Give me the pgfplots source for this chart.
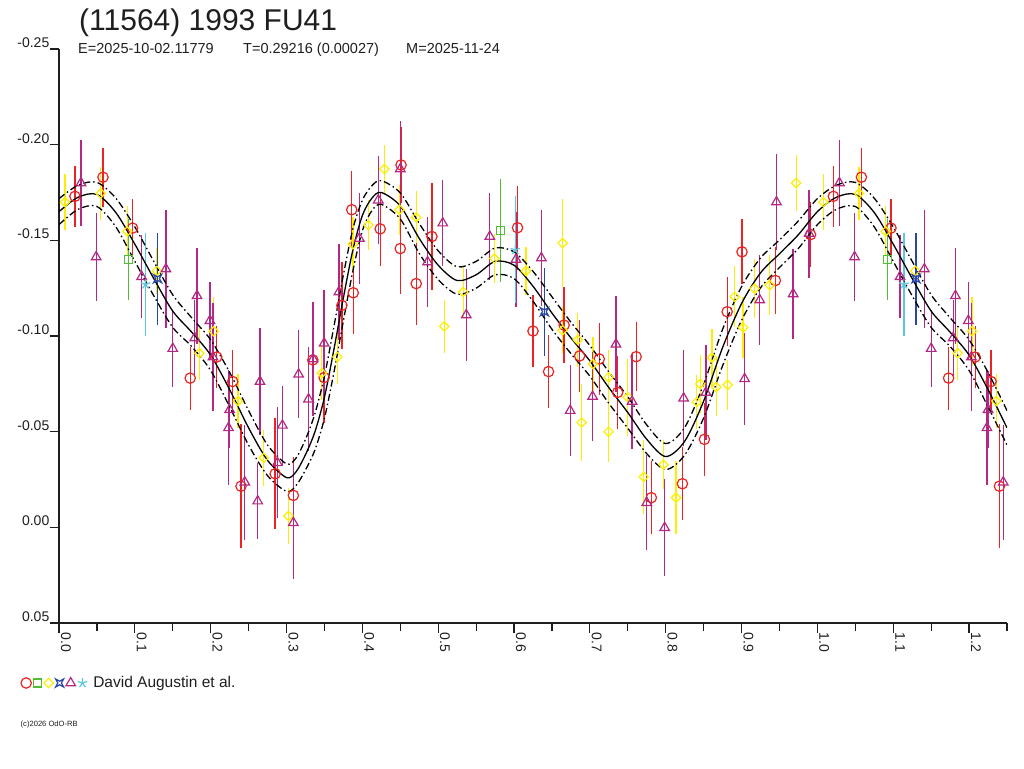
\documentclass[border=0pt]{standalone}
\usepackage{pgfplots}
\pgfplotsset{compat=1.18}
\usepackage{pgfplotstable}
\usepackage{fontspec}
\setmainfont{Liberation Sans}
\definecolor{cred}{RGB}{235,35,35}
\definecolor{cgreen}{RGB}{80,190,50}
\definecolor{cyellow}{RGB}{252,238,0}
\definecolor{cblue}{RGB}{40,70,170}
\definecolor{cpurple}{RGB}{178,40,130}
\definecolor{ccyan}{RGB}{90,200,225}
\definecolor{txt}{RGB}{30,30,30}
\pgfdeclareplotmark{fourstar}{%
  \pgfpathmoveto{\pgfqpoint{\pgfplotmarksize}{\pgfplotmarksize}}%
  \pgfpathlineto{\pgfqpoint{0pt}{0.45\pgfplotmarksize}}%
  \pgfpathlineto{\pgfqpoint{-\pgfplotmarksize}{\pgfplotmarksize}}%
  \pgfpathlineto{\pgfqpoint{-0.45\pgfplotmarksize}{0pt}}%
  \pgfpathlineto{\pgfqpoint{-\pgfplotmarksize}{-\pgfplotmarksize}}%
  \pgfpathlineto{\pgfqpoint{0pt}{-0.45\pgfplotmarksize}}%
  \pgfpathlineto{\pgfqpoint{\pgfplotmarksize}{-\pgfplotmarksize}}%
  \pgfpathlineto{\pgfqpoint{0.45\pgfplotmarksize}{0pt}}%
  \pgfpathclose\pgfusepathqstroke}

\pgfplotstableread{
x y e
0.021 -0.173 0.016
0.058 -0.183 0.0155
0.097 -0.1564 0.015
0.173 -0.078 0.0165
0.208 -0.089 0.016
0.229 -0.0762 0.0165
0.240 -0.0215 0.0325
0.285 -0.028 0.029
0.309 -0.0167 0.020
0.3347 -0.0875 0.018
0.3496 -0.0783 0.0237
0.373 -0.116 0.0226
0.388 -0.1226 0.0217
0.386 -0.166 0.020
0.4235 -0.156 0.0195
0.451 -0.1894 0.020
0.450 -0.1457 0.024
0.471 -0.1274 0.0217
0.4917 -0.152 0.028
0.6046 -0.1566 0.022
0.625 -0.1026 0.019
0.6455 -0.0814 0.019
0.666 -0.1057 0.020
0.6865 -0.0896 0.019
0.7124 -0.088 0.0187
0.7366 -0.0705 0.019
0.761 -0.0892 0.018
0.781 -0.0155 0.019
0.822 -0.0228 0.019
0.851 -0.046 0.019
0.881 -0.1127 0.018
0.9006 -0.144 0.017
0.9446 -0.129 0.0174
0.991 -0.153 0.0171
1.021 -0.173 0.016
1.058 -0.183 0.0155
1.097 -0.1564 0.015
1.173 -0.078 0.0165
1.208 -0.089 0.016
1.229 -0.0762 0.0165
1.240 -0.0215 0.0325
}\redtab

\pgfplotstableread{
x y e
0.092 -0.140 0.021
0.582 -0.155 0.027
1.092 -0.140 0.021
}\greentab

\pgfplotstableread{
x y e
0.008 -0.170 0.0145
0.055 -0.1745 0.014
0.090 -0.1547 0.013
0.129 -0.134 0.012
0.185 -0.091 0.014
0.204 -0.1025 0.018
0.236 -0.066 0.014
0.270 -0.0363 0.0145
0.3025 -0.0059 0.0145
0.3465 -0.0806 0.014
0.367 -0.089 0.014
0.3875 -0.148 0.014
0.408 -0.158 0.013
0.429 -0.1873 0.0126
0.449 -0.166 0.013
0.471 -0.162 0.0136
0.508 -0.105 0.0137
0.533 -0.123 0.013
0.574 -0.1405 0.013
0.6157 -0.134 0.0126
0.664 -0.1486 0.023
0.664 -0.103 0.012
0.684 -0.098 0.014
0.689 -0.0548 0.020
0.704 -0.0854 0.014
0.7247 -0.0785 0.014
0.7247 -0.050 0.0156
0.750 -0.068 0.020
0.771 -0.0264 0.0195
0.797 -0.0328 0.013
0.8136 -0.0155 0.019
0.841 -0.0655 0.014
0.8456 -0.075 0.015
0.861 -0.0887 0.015
0.8667 -0.0733 0.015
0.8817 -0.0745 0.013
0.891 -0.1205 0.016
0.902 -0.1045 0.016
0.917 -0.1248 0.0155
0.937 -0.1266 0.0156
0.972 -0.180 0.0146
1.008 -0.170 0.0145
1.055 -0.1745 0.014
1.090 -0.1547 0.013
1.129 -0.134 0.012
1.185 -0.091 0.014
1.204 -0.1025 0.018
1.236 -0.066 0.014
}\yellowtab

\pgfplotstableread{
x y e
0.130 -0.130 0.024
0.640 -0.1127 0.023
1.130 -0.130 0.024
}\bluetab

\pgfplotstableread{
x y e
0.029 -0.180 0.0226
0.049 -0.1413 0.023
0.109 -0.131 0.0217
0.141 -0.135 0.031
0.150 -0.0934 0.020
0.179 -0.099 0.020
0.182 -0.121 0.025
0.199 -0.108 0.020
0.203 -0.089 0.028
0.225 -0.0615 0.020
0.2235 -0.052 0.030
0.245 -0.0236 0.030
0.262 -0.0137 0.020
0.265 -0.0762 0.028
0.288 -0.0337 0.029
0.2946 -0.0533 0.0205
0.309 -0.0024 0.0295
0.316 -0.080 0.023
0.329 -0.067 0.027
0.335 -0.088 0.030
0.3496 -0.0962 0.028
0.369 -0.123 0.025
0.396 -0.151 0.024
0.421 -0.171 0.023
0.450 -0.1873 0.025
0.486 -0.1387 0.0236
0.506 -0.159 0.0226
0.537 -0.111 0.024
0.568 -0.152 0.0226
0.6025 -0.140 0.025
0.636 -0.1408 0.025
0.674 -0.061 0.0236
0.7036 -0.0684 0.0235
0.7344 -0.0957 0.025
0.7556 -0.0658 0.025
0.775 -0.0129 0.0248
0.7986 0.0002 0.0254
0.8236 -0.0675 0.025
0.853 -0.0705 0.025
0.904 -0.0776 0.024
0.924 -0.1188 0.0236
0.946 -0.170 0.025
0.968 -0.122 0.0236
0.989 -0.1535 0.023
1.029 -0.180 0.0226
1.049 -0.1413 0.023
1.109 -0.131 0.0217
1.141 -0.135 0.031
1.150 -0.0934 0.020
1.179 -0.099 0.020
1.182 -0.121 0.025
1.199 -0.108 0.020
1.203 -0.089 0.028
1.225 -0.0615 0.020
1.2235 -0.052 0.030
1.245 -0.0236 0.030
}\purpletab

\pgfplotstableread{
x y e
0.114 -0.127 0.027
0.6016 -0.145 0.028
1.114 -0.127 0.027
}\cyantab

\pgfplotstableread{
p y u l
0.000 -0.1650 -0.1718 -0.1582
0.025 -0.1725 -0.1788 -0.1662
0.050 -0.1740 -0.1803 -0.1677
0.075 -0.1645 -0.1720 -0.1570
0.100 -0.1480 -0.1570 -0.1390
0.125 -0.1300 -0.1390 -0.1210
0.150 -0.1130 -0.1215 -0.1045
0.175 -0.1020 -0.1095 -0.0945
0.200 -0.0900 -0.0980 -0.0820
0.225 -0.0720 -0.0810 -0.0630
0.250 -0.0520 -0.0610 -0.0430
0.275 -0.0350 -0.0430 -0.0270
0.300 -0.0260 -0.0332 -0.0188
0.3125 -0.0290 -0.0362 -0.0218
0.325 -0.0380 -0.0460 -0.0300
0.3375 -0.0500 -0.0595 -0.0405
0.350 -0.0680 -0.0790 -0.0570
0.3625 -0.0930 -0.1050 -0.0810
0.375 -0.1200 -0.1320 -0.1080
0.3875 -0.1450 -0.1560 -0.1340
0.400 -0.1630 -0.1710 -0.1550
0.4125 -0.1720 -0.1785 -0.1655
0.425 -0.1750 -0.1812 -0.1688
0.450 -0.1680 -0.1748 -0.1612
0.475 -0.1510 -0.1588 -0.1432
0.500 -0.1370 -0.1445 -0.1295
0.525 -0.1290 -0.1362 -0.1218
0.550 -0.1320 -0.1390 -0.1250
0.575 -0.1390 -0.1460 -0.1320
0.600 -0.1370 -0.1440 -0.1300
0.625 -0.1260 -0.1338 -0.1182
0.650 -0.1120 -0.1205 -0.1035
0.675 -0.0990 -0.1072 -0.0908
0.700 -0.0870 -0.0950 -0.0790
0.725 -0.0730 -0.0812 -0.0648
0.750 -0.0600 -0.0682 -0.0518
0.775 -0.0460 -0.0535 -0.0385
0.800 -0.0370 -0.0438 -0.0302
0.825 -0.0450 -0.0522 -0.0378
0.850 -0.0660 -0.0748 -0.0572
0.875 -0.0940 -0.1035 -0.0845
0.900 -0.1170 -0.1258 -0.1082
0.925 -0.1330 -0.1408 -0.1252
0.950 -0.1430 -0.1502 -0.1358
0.975 -0.1530 -0.1602 -0.1458
1.000 -0.1650 -0.1718 -0.1582
1.025 -0.1725 -0.1788 -0.1662
1.050 -0.1740 -0.1803 -0.1677
1.075 -0.1645 -0.1720 -0.1570
1.100 -0.1480 -0.1570 -0.1390
1.125 -0.1300 -0.1390 -0.1210
1.150 -0.1130 -0.1215 -0.1045
1.175 -0.1020 -0.1095 -0.0945
1.200 -0.0900 -0.0980 -0.0820
1.225 -0.0720 -0.0810 -0.0630
1.250 -0.0520 -0.0610 -0.0430
}\curvetab

\begin{document}
\begin{tikzpicture}[x=1pt,y=1pt]
\path[use as bounding box] (0,0) rectangle (1024,-768);
\node[anchor=base west, inner sep=0pt, text=txt, font=\fontsize{30}{32}\selectfont] at (79,-31) {(11564) 1993 FU41};
\begin{scope}[every node/.style={anchor=base west, inner sep=0pt, text=txt, font=\fontsize{14.5}{16}\selectfont}]
\node at (78,-54) {E=2025-10-02.11779};
\node at (243,-54) {T=0.29216 (0.00027)};
\node at (406,-54) {M=2025-11-24};
\end{scope}
\node[anchor=west, inner sep=0pt, text=txt, font=\fontsize{7.6}{8}\selectfont] at (20.5,-725) {(c)2026 OdO-RB};
\begin{axis}[
  at={(59pt,-623pt)}, anchor=south west,
  scale only axis, width=948pt, height=574pt,
  xmin=0, xmax=1.25, ymin=-0.25, ymax=0.05,
  y dir=reverse,
  axis lines*=left,
  axis line style={-, line width=1.2pt, color=txt},
  tick align=outside,
  major tick length=9.5pt, minor tick length=8pt,
  tick style={line width=1.2pt, color=txt},
  xtick={0,0.1,0.2,0.3,0.4,0.5,0.6,0.7,0.8,0.9,1.0,1.1,1.2},
  xticklabels={0.0,0.1,0.2,0.3,0.4,0.5,0.6,0.7,0.8,0.9,1.0,1.1,1.2},
  minor xtick={0.05,0.15,0.25,0.35,0.45,0.55,0.65,0.75,0.85,0.95,1.05,1.15,1.25},
  ytick={-0.25,-0.2,-0.15,-0.1,-0.05,0,0.05},
  yticklabels={-0.25,-0.20,-0.15,-0.10,-0.05,0.00,0.05},
  xticklabel style={xshift=2pt, yshift=0pt, rotate=-90, anchor=base west, inner sep=0pt, text=txt, font=\fontsize{14}{15}\selectfont},
  yticklabel style={anchor=base east, inner sep=0pt, yshift=1.5pt, text=txt, font=\fontsize{14}{15}\selectfont},
  legend columns=-1,
  legend style={at={(axis description cs:-0.0401,-0.1045)}, anchor=west, draw=none, fill=none, inner sep=0pt, outer sep=0pt, column sep=0pt, nodes={inner sep=0pt, text=txt, font=\fontsize{15.5}{17}\selectfont}},
  legend image code/.code={\draw[#1] plot coordinates {(0pt,0pt)};},
  every axis plot/.append style={line width=1.2pt},
]
\addplot[only marks, mark=o, mark size=5.2pt, color=cred,
  error bars/.cd, y dir=both, y explicit, error mark=none, error bar style={line width=1.3pt, color=cred}]
  table[x=x, y=y, y error=e] {\redtab};
\addlegendentry{\mbox{\hspace{2.3pt}}}
\addplot[only marks, mark=square, mark size=4pt, color=cgreen,
  error bars/.cd, y dir=both, y explicit, error mark=none, error bar style={line width=1.3pt, color=cgreen}]
  table[x=x, y=y, y error=e] {\greentab};
\addlegendentry{\mbox{\hspace{2.3pt}}}
\addplot[only marks, mark=square, mark size=3.3pt, mark options={rotate=45}, color=cyellow,
  error bars/.cd, y dir=both, y explicit, error mark=none, error bar style={line width=1.3pt, color=cyellow}]
  table[x=x, y=y, y error=e] {\yellowtab};
\addlegendentry{\mbox{\hspace{2.3pt}}}
\addplot[only marks, mark=fourstar, mark size=4pt, color=cblue,
  error bars/.cd, y dir=both, y explicit, error mark=none, error bar style={line width=1.3pt, color=cblue}]
  table[x=x, y=y, y error=e] {\bluetab};
\addlegendentry{\mbox{\hspace{2.3pt}}}
\addplot[only marks, mark=triangle, mark size=5.5pt, color=cpurple,
  error bars/.cd, y dir=both, y explicit, error mark=none, error bar style={line width=1.3pt, color=cpurple}]
  table[x=x, y=y, y error=e] {\purpletab};
\addlegendentry{\mbox{\hspace{2.3pt}}}
\addplot[only marks, mark=star, mark size=5pt, color=ccyan,
  error bars/.cd, y dir=both, y explicit, error mark=none, error bar style={line width=1.3pt, color=ccyan}]
  table[x=x, y=y, y error=e] {\cyantab};
\addlegendentry{\hspace{6pt}David Augustin et al.}
\addplot[black, line width=1.3pt, smooth, forget plot] table[x=p, y=y] {\curvetab};
\addplot[black, line width=1.3pt, smooth, dash pattern=on 7pt off 3pt on 1.5pt off 3pt, forget plot] table[x=p, y=u] {\curvetab};
\addplot[black, line width=1.3pt, smooth, dash pattern=on 7pt off 3pt on 1.5pt off 3pt, forget plot] table[x=p, y=l] {\curvetab};
\end{axis}
\end{tikzpicture}
\end{document}
